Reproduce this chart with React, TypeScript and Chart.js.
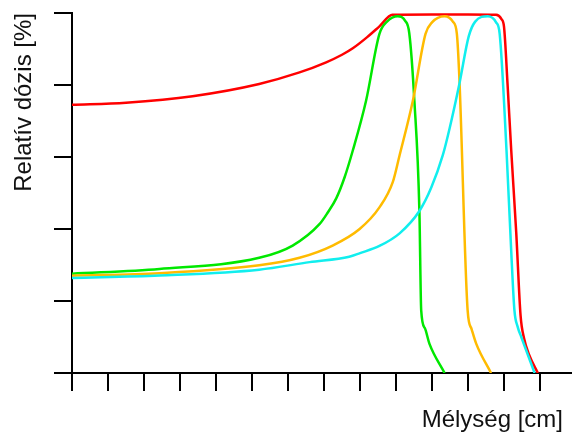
import React, { useEffect, useRef } from "react";
import { Chart, registerables } from "chart.js";

Chart.register(...registerables);

const xTitle = "Mélység [cm]";
const yTitle = "Relatív dózis [%]";

// depth [cm] and relative dose [%]
const redX = [0, 1.5, 3.35, 5.2, 6.32, 7.06, 7.5, 7.8, 8.2, 8.54, 8.9, 10.0, 11.0, 11.78, 11.93, 12.0, 12.1, 12.2, 12.34, 12.46, 12.56, 12.7, 12.94];
const redY = [74.5, 75.1, 76.9, 80.3, 83.5, 86.3, 88.4, 90.2, 93.3, 96.3, 99.5, 99.6, 99.6, 99.5, 98.3, 96.2, 80, 62, 39, 16, 9.5, 5, 0];

const greenX = [0, 2.43, 5.2, 6.13, 6.88, 7.1, 7.34, 7.57, 7.8, 8.17, 8.54, 8.75, 9.05, 9.25, 9.37, 9.51, 9.65, 9.7, 9.8, 9.93, 10.35];
const greenY = [27.6, 28.9, 32, 35.4, 41.4, 44.5, 48.5, 54.3, 61.8, 75.7, 94.2, 97.6, 99.1, 97.9, 94.3, 75.7, 45, 17.4, 12.5, 8.1, 0];

const orangeX = [0, 2.43, 5.2, 6.32, 7.24, 7.99, 8.54, 8.91, 9.1, 9.47, 9.82, 10.0, 10.35, 10.58, 10.69, 10.76, 10.99, 11.1, 11.23, 11.64];
const orangeY = [27.0, 27.7, 29.9, 32, 35.4, 40, 46, 53, 60.5, 75.7, 94.2, 97.4, 99.1, 97.6, 94.3, 82, 17.4, 12.2, 8.1, 0];

const cyanX = [0, 2.43, 5.2, 6.6, 7.7, 8.0, 8.54, 9.1, 9.65, 9.98, 10.3, 10.49, 10.76, 11.02, 11.2, 11.55, 11.78, 11.88, 12.07, 12.2, 12.29, 12.38, 12.48, 12.85];
const cyanY = [26.4, 27.1, 28.7, 30.8, 32.3, 33.3, 35.3, 38.8, 45, 51.5, 60.5, 68, 80.3, 93.5, 97.6, 99.1, 97.4, 94.2, 61.8, 34, 17.4, 12.8, 10, 0];

const pts = (xs: number[], ys: number[]) => xs.map((x, i) => ({ x, y: ys[i] }));

const FONT = "'Liberation Sans', Arial, sans-serif";

// extends the x axis line to the right edge of the canvas
const axisExtend = {
  id: "axisExtend",
  afterDraw(chart: any) {
    const { ctx, chartArea, width } = chart;
    const y = chart.scales.x.getPixelForValue(chart.scales.x.min);
    ctx.save();
    ctx.strokeStyle = "#000";
    ctx.lineWidth = 2;
    ctx.beginPath();
    ctx.moveTo(chartArea.right - 1, Math.round(chart.scales.y.bottom));
    ctx.lineTo(width, Math.round(chart.scales.y.bottom));
    ctx.stroke();
    ctx.restore();
    void y;
  },
};

export default function App() {
  const ref = useRef<HTMLCanvasElement | null>(null);
  useEffect(() => {
    if (!ref.current) return;
    const line = (data: { x: number; y: number }[], color: string) => ({
      data,
      borderColor: color,
      backgroundColor: color,
      borderWidth: 2.5,
      pointRadius: 0,
      fill: false,
      cubicInterpolationMode: "monotone" as const,
    });
    const chart = new Chart(ref.current, {
      type: "line",
      data: {
        datasets: [
          line(pts(cyanX, cyanY), "#11eeee"),
          line(pts(orangeX, orangeY), "#ffbb00"),
          line(pts(greenX, greenY), "#00e800"),
          line(pts(redX, redY), "#ff0000"),
        ],
      },
      plugins: [axisExtend],
      options: {
        animation: false,
        responsive: false,
        devicePixelRatio: 1,
        layout: { padding: { top: 13, left: 0, right: 9, bottom: 0 } },
        plugins: { legend: { display: false }, tooltip: { enabled: false } },
        scales: {
          x: {
            type: "linear",
            min: 0,
            max: 13.639,
            ticks: { display: false, stepSize: 1, includeBounds: false },
            grid: { display: true, drawOnChartArea: false, drawTicks: true, tickLength: 18, color: "#000", lineWidth: 2 },
            border: { display: true, color: "#000", width: 2 },
            title: {
              display: true,
              text: xTitle,
              align: "end",
              color: "#111",
              font: { family: FONT, size: 24 },
              padding: { top: 14.6, bottom: 0.6 },
            },
          },
          y: {
            type: "linear",
            min: 0,
            max: 100,
            ticks: { display: false, stepSize: 20 },
            grid: { display: true, drawOnChartArea: false, drawTicks: true, tickLength: 18, color: "#000", lineWidth: 2 },
            border: { display: true, color: "#000", width: 2 },
            title: {
              display: true,
              text: yTitle,
              align: "end",
              color: "#111",
              font: { family: FONT, size: 24 },
              padding: { top: 10.3, bottom: 14.9 },
            },
          },
        },
      },
    });
    return () => chart.destroy();
  }, []);
  return (
    <div style={{ position: "fixed", left: 0, top: 0, width: 572, height: 435, background: "#fff" }}>
      <canvas ref={ref} width={572} height={435} />
    </div>
  );
}
